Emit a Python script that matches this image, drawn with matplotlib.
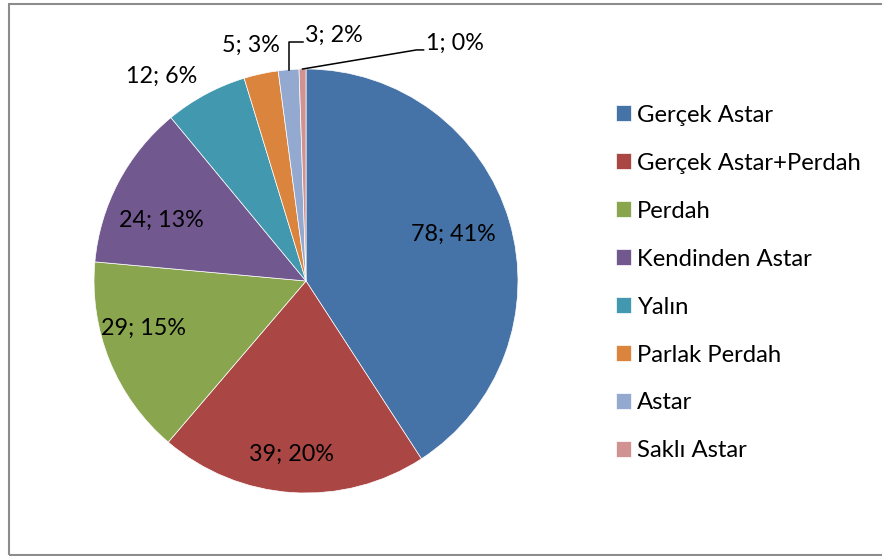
import matplotlib.pyplot as plt
import numpy as np
from matplotlib.patches import Rectangle

plt.rcParams['font.family'] = ['Lato', 'DejaVu Sans']

categories = ["Gerçek Astar", "Gerçek Astar+Perdah", "Perdah", "Kendinden Astar",
              "Yalın", "Parlak Perdah", "Astar", "Saklı Astar"]
counts = [78, 39, 29, 24, 12, 5, 3, 1]
shares = [41, 20, 15, 13, 6, 3, 2, 0]
colors = ["#4572A7", "#AA4643", "#89A54E", "#71588F",
          "#4198AF", "#DB843D", "#93A9CF", "#D19392"]

W, H = 882, 556
cx, cy, R = 306, 281, 212  # pie centre and radius in pixels

fig = plt.figure(figsize=(W / 100, H / 100), dpi=100)
ax = fig.add_axes([0, 0, 1, 1])

wedges, _ = ax.pie(counts, colors=colors, startangle=90, counterclock=False,
                   radius=1, wedgeprops=dict(edgecolor="white", linewidth=0.5))
ax.set_aspect("auto")
ax.set_xlim(-cx / R, (W - cx) / R)
ax.set_ylim(-(H - cy) / R, cy / R)
ax.axis("off")

fs = 16.8
# label placement: radial factor and angular nudge (deg) for the first six slices
label_r = [0.73, 0.82, 0.80, 0.74, 1.18, 1.14]
label_da = [1, -1, -6, 5, 7, 1]
for i, w in enumerate(wedges[:6]):
    th = np.deg2rad((w.theta1 + w.theta2) / 2 + label_da[i])
    ax.text(label_r[i] * np.cos(th), label_r[i] * np.sin(th),
            f"{counts[i]}; {shares[i]}%", ha="center", va="center", fontsize=fs)

# small slices get leader lines
leaders = {6: (0.0, 1.127, 0.066), 7: (0.538, 1.090, 0.033)}
for i, (dx, ly, tail) in leaders.items():
    w = wedges[i]
    th = np.deg2rad((w.theta1 + w.theta2) / 2)
    x0, y0 = np.cos(th), np.sin(th)
    x1 = x0 + dx
    ax.plot([x0, x1, x1 + tail], [y0, ly, ly], color="black", lw=1.1)
    ax.text(x1 + tail + 0.01, ly, f"{counts[i]}; {shares[i]}%",
            ha="left", va="baseline", fontsize=fs)

ax.legend(wedges, categories, loc="upper left", bbox_to_anchor=(0.698, 0.812),
          frameon=False, fontsize=17.2, handlelength=0.63, handleheight=0.63,
          handletextpad=0.25, labelspacing=1.13, borderaxespad=0, borderpad=0)

fig.patches.append(Rectangle((9 / W, 1 - 555 / H), (W + 10 - 9) / W, (555 - 4) / H,
                             transform=fig.transFigure, fill=False,
                             edgecolor="#8c8c8c", linewidth=1.5))

fig.savefig("out.png", dpi=100)
